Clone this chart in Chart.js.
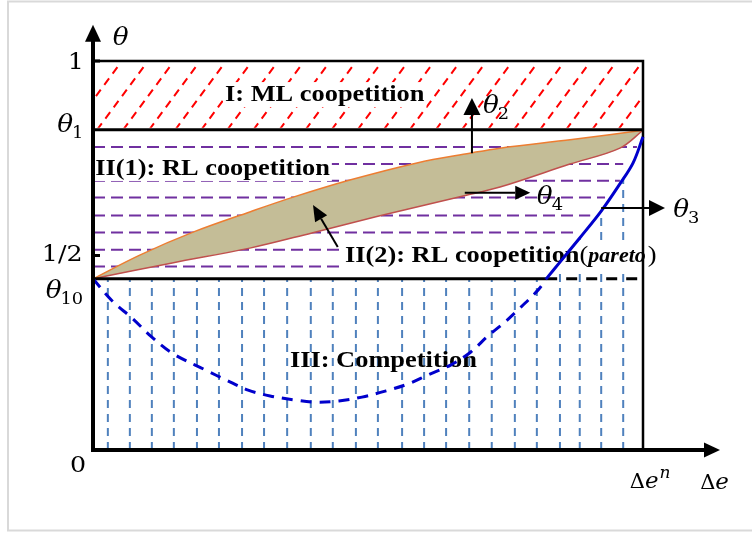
<!DOCTYPE html>
<html><head><meta charset="utf-8">
<script src="https://cdn.jsdelivr.net/npm/chart.js@4.4.0/dist/chart.umd.min.js"></script>
<style>html,body{margin:0;padding:0;background:#fff}canvas{display:block}</style>
</head><body>
<canvas id="c" width="752" height="533"></canvas>
<script>
// Threshold levels on the θ axis
const THETA_ONE = 1;
const THETA_1 = 0.823;
const THETA_HALF = 0.5;
const THETA_10 = 0.44;
const DELTA_E_N = 1;

// θ2: upper edge of the Pareto lens
const theta2X = [0, 0.085, 0.182, 0.285, 0.364, 0.467, 0.589, 0.685, 0.740, 0.871, 1];
const theta2Y = [0.440, 0.501, 0.560, 0.612, 0.650, 0.694, 0.738, 0.763, 0.776, 0.798, 0.822];

// θ4: lower edge of the Pareto lens
const theta4X = [0, 0.144, 0.285, 0.398, 0.516, 0.673, 0.740, 0.867, 0.958, 1];
const theta4Y = [0.440, 0.481, 0.519, 0.558, 0.600, 0.653, 0.676, 0.735, 0.776, 0.822];

// θ3 below θ10 (dashed part)
const theta3LowX = [0, 0.035, 0.071, 0.105, 0.144, 0.204, 0.242, 0.282, 0.322, 0.365, 0.405, 0.447,
  0.489, 0.533, 0.573, 0.609, 0.651, 0.687, 0.718, 0.745, 0.769, 0.809, 0.824];
const theta3LowY = [0.440, 0.383, 0.339, 0.293, 0.249, 0.206, 0.180, 0.154, 0.139, 0.129, 0.123, 0.126,
  0.136, 0.152, 0.170, 0.193, 0.219, 0.252, 0.293, 0.324, 0.355, 0.411, 0.440];

// θ3 above θ10 (solid part)
const theta3HighX = [0.824, 0.849, 0.885, 0.924, 0.958, 0.982, 1.0];
const theta3HighY = [0.440, 0.483, 0.545, 0.614, 0.684, 0.738, 0.805];

// Region II(1) hatching: levels and right ends
const coopLevels = [0.779, 0.735, 0.692, 0.649, 0.603, 0.559, 0.515, 0.472];
const coopEnds = [0.989, 0.964, 0.958, 0.931, 0.904, 0.882, 0.858, 0.831];

// Region III hatching: positions and upper ends
const compX = [0.027, 0.067, 0.107, 0.147, 0.189, 0.229, 0.271, 0.311, 0.353, 0.396, 0.436, 0.478,
  0.518, 0.562, 0.602, 0.642, 0.684, 0.725, 0.767, 0.807, 0.849, 0.885, 0.924, 0.964];
const compTop = [0.44, 0.44, 0.44, 0.44, 0.44, 0.44, 0.44, 0.44, 0.44, 0.44, 0.44, 0.44,
  0.44, 0.44, 0.44, 0.44, 0.44, 0.44, 0.44, 0.44, 0.483, 0.545, 0.614, 0.70];

// Tick labels
const yTickValues = [THETA_ONE, THETA_HALF, 0];
const yTickLabels = ['1', '1/2', '0'];
const regionLabels = ['I: ML coopetition', 'II(1): RL coopetition', 'II(2): RL coopetition', 'III: Competition'];

const pts = (xs, ys) => xs.map((x, i) => ({x, y: ys[i]}));
const withGaps = segs => segs.flatMap(s => [s[0], s[1], {x: s[1].x, y: null}]);

const lensPolygon = pts(theta2X, theta2Y).concat(pts(theta4X, theta4Y).reverse());
const coopLines = withGaps(coopLevels.map((y, i) => [{x: 0, y}, {x: coopEnds[i], y}]));
const compLines = withGaps(compX.map((x, i) => [{x, y: 0}, {x, y: compTop[i]}]));

const serif = '"Liberation Serif", "Times New Roman", serif';
const mathFont = '"DejaVu Serif", serif';

function sText(ctx, s, x, y, font, sx) {
  ctx.save();
  ctx.font = font;
  ctx.translate(x, y);
  ctx.scale(sx, 1);
  ctx.fillText(s, 0, 0);
  const w = ctx.measureText(s).width * sx;
  ctx.restore();
  return w;
}

function symbol(ctx, base, sub, x, y, size) {
  ctx.fillStyle = '#000';
  ctx.textBaseline = 'alphabetic';
  const w = sText(ctx, base, x, y, 'italic ' + size + 'px ' + mathFont, 1.05);
  if (sub) sText(ctx, sub, x + w - 1, y + 6, Math.round(size * 0.68) + 'px ' + mathFont, 1.05);
}

function arrow(ctx, x1, y1, x2, y2, len, half, lw) {
  const a = Math.atan2(y2 - y1, x2 - x1);
  const bx = x2 - len * Math.cos(a), by = y2 - len * Math.sin(a);
  ctx.save();
  ctx.strokeStyle = '#000'; ctx.fillStyle = '#000'; ctx.lineWidth = lw;
  ctx.beginPath(); ctx.moveTo(x1, y1); ctx.lineTo(bx, by); ctx.stroke();
  ctx.beginPath();
  ctx.moveTo(x2, y2);
  ctx.lineTo(bx + half * Math.sin(a), by - half * Math.cos(a));
  ctx.lineTo(bx - half * Math.sin(a), by + half * Math.cos(a));
  ctx.closePath(); ctx.fill();
  ctx.restore();
}

const diagram = {
  id: 'diagram',
  beforeDraw(chart) {
    const ctx = chart.ctx;
    ctx.save();
    ctx.fillStyle = '#fff';
    ctx.fillRect(0, 0, chart.width, chart.height);
    ctx.strokeStyle = '#d9d9d9';
    ctx.lineWidth = 2;
    ctx.strokeRect(8, 1.5, 760, 529);
    ctx.restore();
  },
  beforeDatasetsDraw(chart) {
    // diagonal red hatching of region I
    const ctx = chart.ctx, X = v => chart.scales.x.getPixelForValue(v), Y = v => chart.scales.y.getPixelForValue(v);
    const l = X(0), r = X(DELTA_E_N), t = Y(THETA_ONE), b = Y(THETA_1);
    const h = b - t, step = (r - l - 55) / 19;
    ctx.save();
    ctx.beginPath(); ctx.rect(l + 2, t + 2, r - l - 3, h - 4); ctx.clip();
    ctx.strokeStyle = '#ff0000'; ctx.lineWidth = 2; ctx.setLineDash([8, 6]);
    for (let k = -3; k <= 20; k++) {
      const xt = l + 55 + step * k;
      ctx.beginPath(); ctx.moveTo(xt - 0.74 * h, b); ctx.lineTo(xt, t); ctx.stroke();
    }
    ctx.restore();
  },
  afterDatasetDraw(chart, args) {
    if (chart.data.datasets[args.index].label !== 'coop') return;
    const ctx = chart.ctx, X = v => chart.scales.x.getPixelForValue(v), Y = v => chart.scales.y.getPixelForValue(v);
    const bold = 'bold 24px ' + serif, sx = 1.1;
    ctx.save();
    ctx.textBaseline = 'alphabetic';
    const boxed = [[regionLabels[0], 0.24, 0.897], [regionLabels[1], 0.004, 0.707]];
    boxed.forEach(([s, x, y]) => {
      ctx.font = bold;
      const w = ctx.measureText(s).width * sx;
      ctx.fillStyle = '#fff';
      ctx.fillRect(X(x) - 2, Y(y) - 19, w + 4, 25);
      ctx.fillStyle = '#000';
      sText(ctx, s, X(x), Y(y), bold, sx);
    });
    // II(2) label with the italic Pareto qualifier
    let x = X(0.458); const y = Y(0.483);
    ctx.font = bold;
    ctx.fillStyle = '#fff';
    ctx.fillRect(x - 2, y - 19, 322, 25);
    ctx.fillStyle = '#000';
    x += sText(ctx, regionLabels[2], x, y, bold, sx);
    x += sText(ctx, '(', x, y, '24px ' + serif, sx);
    x += sText(ctx, 'pareto', x, y, 'bold italic 20px ' + serif, sx);
    sText(ctx, ')', x + 2, y, '24px ' + serif, sx);
    sText(ctx, regionLabels[3], X(0.358), Y(0.213), bold, sx);
    ctx.restore();
  },
  afterDatasetsDraw(chart) {
    const ctx = chart.ctx, X = v => chart.scales.x.getPixelForValue(v), Y = v => chart.scales.y.getPixelForValue(v);
    const ox = X(0), oy = Y(0), yTip = Y(1.093), xTip = X(1.14);
    ctx.save();
    ctx.strokeStyle = '#000'; ctx.fillStyle = '#000'; ctx.lineCap = 'butt';
    // axes
    ctx.lineWidth = 4;
    ctx.beginPath(); ctx.moveTo(ox, oy + 2); ctx.lineTo(ox, yTip + 14); ctx.stroke();
    ctx.beginPath(); ctx.moveTo(ox - 2, oy); ctx.lineTo(xTip - 14, oy); ctx.stroke();
    ctx.beginPath(); ctx.moveTo(ox, yTip); ctx.lineTo(ox - 8, yTip + 17); ctx.lineTo(ox + 8, yTip + 17); ctx.closePath(); ctx.fill();
    ctx.beginPath(); ctx.moveTo(xTip, oy); ctx.lineTo(xTip - 16, oy - 7.5); ctx.lineTo(xTip - 16, oy + 7.5); ctx.closePath(); ctx.fill();
    // ticks
    ctx.lineWidth = 3;
    [THETA_ONE, THETA_HALF].forEach(v => { ctx.beginPath(); ctx.moveTo(ox, Y(v)); ctx.lineTo(ox + 7, Y(v)); ctx.stroke(); });
    // tick labels
    const tickPos = [[-0.046, 0.979], [-0.093, 0.486], [-0.042, -0.057]];
    yTickValues.forEach((v, i) => sText(ctx, yTickLabels[i], X(tickPos[i][0]), Y(tickPos[i][1]), '22px ' + mathFont, 1.15));
    // θ symbols
    symbol(ctx, 'θ', '', X(0.036), Y(1.041), 25);
    symbol(ctx, 'θ', '1', X(-0.065), Y(0.817), 25);
    symbol(ctx, 'θ', '10', X(-0.086), Y(0.391), 25);
    symbol(ctx, 'θ', '2', X(0.709), Y(0.866), 25);
    symbol(ctx, 'θ', '4', X(0.807), Y(0.632), 25);
    symbol(ctx, 'θ', '3', X(1.055), Y(0.599), 25);
    // Δe labels
    const bx = X(0.976), by = Y(-0.098);
    let w = sText(ctx, 'Δ', bx, by, '21px ' + mathFont, 1);
    w += sText(ctx, 'e', bx + w, by, 'italic 23px ' + mathFont, 1);
    sText(ctx, 'n', bx + w + 1, by - 10, 'italic 17px ' + mathFont, 1);
    const cx = X(1.104), cy = Y(-0.1);
    w = sText(ctx, 'Δ', cx, cy, '21px ' + mathFont, 1);
    sText(ctx, 'e', cx + w, cy, 'italic 23px ' + mathFont, 1);
    ctx.restore();
    // pointer arrows
    arrow(ctx, X(0.689), Y(0.763), X(0.689), Y(0.905), 17, 8.5, 2);
    arrow(ctx, X(0.676), Y(0.661), X(0.795), Y(0.661), 15, 7, 2);
    arrow(ctx, X(0.924), Y(0.622), X(1.04), Y(0.622), 16, 8, 2);
    arrow(ctx, X(0.445), Y(0.522), X(0.400), Y(0.630), 16, 7, 2);
  }
};

const line = (label, data, color, width, dash, order, extra) => Object.assign({
  label, data, showLine: true, borderColor: color, borderWidth: width, borderDash: dash || [],
  pointRadius: 0, tension: 0, fill: false, order
}, extra || {});

new Chart(document.getElementById('c'), {
  type: 'scatter',
  data: {
    datasets: [
      line('comp', compLines, '#4f81bd', 2, [8, 6], 90),
      line('coop', coopLines, '#7030a0', 2, [12, 6], 80),
      line('lens', lensPolygon, 'rgba(0,0,0,0)', 0, [], 70, {fill: 'shape', backgroundColor: '#c4bd97', tension: 0.35}),
      line('theta2', pts(theta2X, theta2Y), '#ed7d31', 1.5, [], 60, {tension: 0.35}),
      line('theta4', pts(theta4X, theta4Y), '#c0504d', 1.5, [], 60, {tension: 0.35}),
      line('frame', [{x: 0, y: THETA_ONE}, {x: DELTA_E_N, y: THETA_ONE}, {x: DELTA_E_N, y: 0}], '#000', 2.5, [], 50),
      line('theta1', [{x: 0, y: THETA_1}, {x: DELTA_E_N, y: THETA_1}], '#000', 3, [], 50),
      line('theta10', [{x: 0, y: THETA_10}, {x: theta3HighX[0], y: THETA_10}], '#000', 3, [], 50),
      line('theta10b', [{x: theta3HighX[0], y: THETA_10}, {x: DELTA_E_N, y: THETA_10}], '#000', 3, [11, 9], 50),
      line('theta3low', pts(theta3LowX, theta3LowY), '#0000cc', 3, [11, 8], 40, {tension: 0.35}),
      line('theta3high', pts(theta3HighX, theta3HighY), '#0000cc', 3, [], 30, {tension: 0.35})
    ]
  },
  options: {
    responsive: false, animation: false, devicePixelRatio: 1,
    layout: {padding: 0},
    scales: {
      x: {type: 'linear', display: false, min: -93 / 550, max: 659 / 550},
      y: {type: 'linear', display: false, min: -83 / 389, max: 450 / 389}
    },
    plugins: {legend: {display: false}, tooltip: {enabled: false}}
  },
  plugins: [diagram]
});
</script>
</body></html>
